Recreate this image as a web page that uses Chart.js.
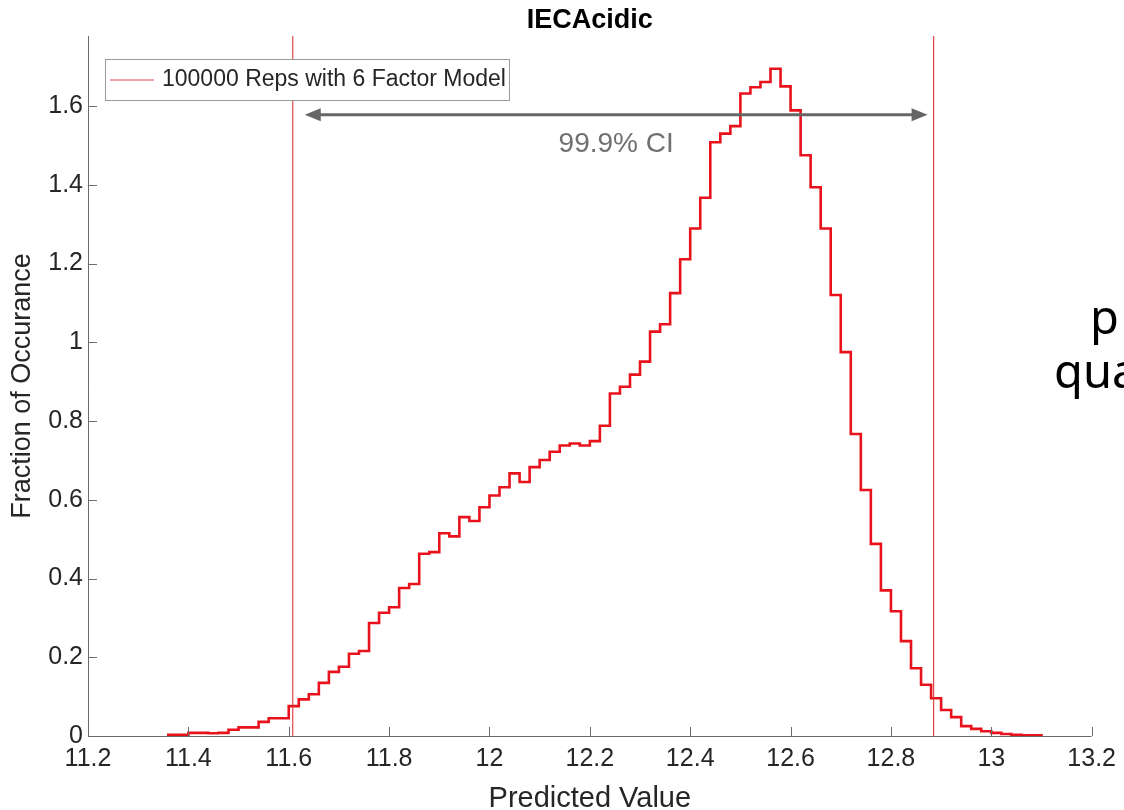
<!DOCTYPE html>
<html>
<head>
<meta charset="utf-8">
<title>IECAcidic</title>
<script src="https://cdn.jsdelivr.net/npm/chart.js@4.4.1/dist/chart.umd.min.js"></script>
<style>
  html, body { margin: 0; padding: 0; background: #fff; overflow: hidden; }
  #wrap { position: relative; width: 1124px; height: 810px; overflow: hidden; }
  #plot { position: absolute; left: 0; top: 0; width: 1124px; height: 810px; }
  .side { position: absolute; font-family: "Noto Sans", sans-serif; font-size: 47px; color: #000; white-space: nowrap; line-height: 1; }
</style>
</head>
<body>
<div id="wrap">
  <div id="plot"><canvas id="hist"></canvas></div>
  <div class="side" style="left:1090px; top:293px;">p</div>
  <div class="side" style="left:1054px; top:347px;">qua</div>
</div>
<script>
// histogram of predicted values, bin width 0.02
const binStart = 11.36;
const binWidth = 0.02;
const fraction = [
  0.003, 0.003, 0.008, 0.008, 0.007, 0.008, 0.016, 0.022, 0.022, 0.036,
  0.045, 0.045, 0.076, 0.093, 0.106, 0.135, 0.163, 0.176, 0.209, 0.216,
  0.287, 0.313, 0.327, 0.376, 0.386, 0.463, 0.467, 0.515, 0.507, 0.556,
  0.546, 0.581, 0.611, 0.632, 0.667, 0.645, 0.683, 0.701, 0.722, 0.738,
  0.743, 0.738, 0.749, 0.788, 0.870, 0.887, 0.918, 0.951, 1.027, 1.046,
  1.125, 1.211, 1.289, 1.367, 1.508, 1.530, 1.549, 1.632, 1.648, 1.661,
  1.695, 1.650, 1.589, 1.475, 1.394, 1.289, 1.120, 0.975, 0.767, 0.625,
  0.488, 0.370, 0.317, 0.241, 0.172, 0.130, 0.096, 0.066, 0.048, 0.025,
  0.018, 0.012, 0.008, 0.005, 0.003, 0.002, 0.002
];
const ciBounds = [11.608, 12.885];
const ciLevel = 1.578;
const ciLabel = '99.9% CI';
const xTicks = [11.2, 11.4, 11.6, 11.8, 12, 12.2, 12.4, 12.6, 12.8, 13, 13.2];
const yTicks = [0, 0.2, 0.4, 0.6, 0.8, 1, 1.2, 1.4, 1.6];
const xRange = [11.2, 13.2];
const yRange = [0, 1.778];
const legendLabel = '100000 Reps with 6 Factor Model';

const FONT = '"Liberation Sans", Arial, Helvetica, sans-serif';
const AXIS = '#6a6a6a';
const TEXT = '#262626';

// stairs outline: rise from zero at the first edge, drop back at the last.
// each point holds the bin's left edge, 'before' keeps its height up to the next edge
function stairs(start, width, values) {
  const pts = [{ x: start, y: 0 }];
  values.forEach((v, i) => pts.push({ x: start + i * width, y: v }));
  const end = start + values.length * width;
  pts.push({ x: end, y: values[values.length - 1] });
  pts.push({ x: end, y: 0 });
  return pts;
}

function vline(x) {
  return [{ x: x, y: yRange[0] }, { x: x, y: yRange[1] }];
}

// axes, inward ticks, title, labels, legend and CI arrow
const matlabLook = {
  id: 'matlabLook',
  afterDatasetsDraw(chart) {
    const { ctx, chartArea: a, scales: { x, y } } = chart;
    ctx.save();

    ctx.strokeStyle = AXIS;
    ctx.lineWidth = 1;
    ctx.beginPath();
    ctx.moveTo(a.left + 0.5, a.top);
    ctx.lineTo(a.left + 0.5, a.bottom + 0.5);
    ctx.lineTo(a.right, a.bottom + 0.5);
    x.ticks.forEach(t => {
      const px = Math.round(x.getPixelForValue(t.value)) + 0.5;
      ctx.moveTo(px, a.bottom);
      ctx.lineTo(px, a.bottom - 9);
    });
    y.ticks.forEach(t => {
      const py = Math.round(y.getPixelForValue(t.value)) + 0.5;
      ctx.moveTo(a.left, py);
      ctx.lineTo(a.left + 9, py);
    });
    ctx.stroke();

    // CI arrow
    const x0 = x.getPixelForValue(ciBounds[0]) + 12;
    const x1 = x.getPixelForValue(ciBounds[1]) - 6;
    const yy = y.getPixelForValue(ciLevel);
    const head = 16, half = 6.5;
    ctx.strokeStyle = '#666666';
    ctx.fillStyle = '#666666';
    ctx.lineWidth = 3;
    ctx.beginPath();
    ctx.moveTo(x0 + head - 2, yy);
    ctx.lineTo(x1 - head + 2, yy);
    ctx.stroke();
    ctx.beginPath();
    ctx.moveTo(x0, yy);
    ctx.lineTo(x0 + head, yy - half);
    ctx.lineTo(x0 + head, yy + half);
    ctx.closePath();
    ctx.moveTo(x1, yy);
    ctx.lineTo(x1 - head, yy - half);
    ctx.lineTo(x1 - head, yy + half);
    ctx.closePath();
    ctx.fill();

    ctx.fillStyle = '#707070';
    ctx.font = '28px ' + FONT;
    ctx.textAlign = 'center';
    ctx.textBaseline = 'middle';
    ctx.fillText(ciLabel, (x0 + x1) / 2, y.getPixelForValue(1.503));

    // title
    ctx.fillStyle = '#000';
    ctx.font = 'bold 27px ' + FONT;
    ctx.fillText('IECAcidic', (a.left + a.right) / 2, 21);

    // axis titles
    ctx.fillStyle = TEXT;
    ctx.font = '29px ' + FONT;
    ctx.fillText('Predicted Value', (a.left + a.right) / 2, 799);
    ctx.font = '27px ' + FONT;
    ctx.save();
    ctx.translate(23, (a.top + a.bottom) / 2);
    ctx.rotate(-Math.PI / 2);
    ctx.fillText('Fraction of Occurance', 0, 0);
    ctx.restore();

    // legend
    const lx = a.left + 17, ly = a.top + 23, lw = 404, lh = 41;
    ctx.fillStyle = '#fff';
    ctx.fillRect(lx, ly, lw, lh);
    ctx.strokeStyle = '#9a9a9a';
    ctx.lineWidth = 1;
    ctx.strokeRect(lx + 0.5, ly + 0.5, lw, lh);
    ctx.strokeStyle = '#e04848';
    ctx.beginPath();
    ctx.moveTo(lx + 5, ly + 21);
    ctx.lineTo(lx + 49, ly + 21);
    ctx.stroke();
    ctx.fillStyle = TEXT;
    ctx.font = '23px ' + FONT;
    ctx.textAlign = 'left';
    ctx.fillText(legendLabel, lx + 57, ly + 21);

    ctx.restore();
  }
};

new Chart(document.getElementById('hist'), {
  type: 'line',
  data: {
    datasets: [
      {
        label: 'CI lower',
        data: vline(ciBounds[0]),
        borderColor: 'rgba(218,50,50,0.9)',
        borderWidth: 1.2,
        pointRadius: 0
      },
      {
        label: 'CI upper',
        data: vline(ciBounds[1]),
        borderColor: 'rgba(218,50,50,0.9)',
        borderWidth: 1.2,
        pointRadius: 0
      },
      {
        label: legendLabel,
        data: stairs(binStart, binWidth, fraction),
        stepped: 'before',
        borderColor: '#e8121c',
        borderWidth: 2.6,
        pointRadius: 0,
        fill: false
      }
    ]
  },
  options: {
    responsive: true,
    maintainAspectRatio: false,
    animation: false,
    events: [],
    layout: { padding: { left: 0, top: 36, right: 27, bottom: 0 } },
    plugins: {
      legend: { display: false },
      tooltip: { enabled: false }
    },
    scales: {
      x: {
        type: 'linear',
        min: xRange[0],
        max: xRange[1],
        afterBuildTicks: s => { s.ticks = xTicks.map(v => ({ value: v })); },
        afterFit: s => { s.height = 74; },
        grid: { display: false, drawTicks: false },
        border: { display: false },
        ticks: {
          padding: 8,
          color: TEXT,
          font: { family: FONT, size: 25 },
          maxRotation: 0,
          autoSkip: false,
          callback: v => String(v)
        }
      },
      y: {
        type: 'linear',
        min: yRange[0],
        max: yRange[1],
        afterBuildTicks: s => { s.ticks = yTicks.map(v => ({ value: v })); },
        afterFit: s => { s.width = 88; },
        grid: { display: false, drawTicks: false },
        border: { display: false },
        ticks: {
          padding: 5,
          color: TEXT,
          font: { family: FONT, size: 25 },
          autoSkip: false,
          callback: v => String(v)
        }
      }
    }
  },
  plugins: [matlabLook]
});
</script>
</body>
</html>
